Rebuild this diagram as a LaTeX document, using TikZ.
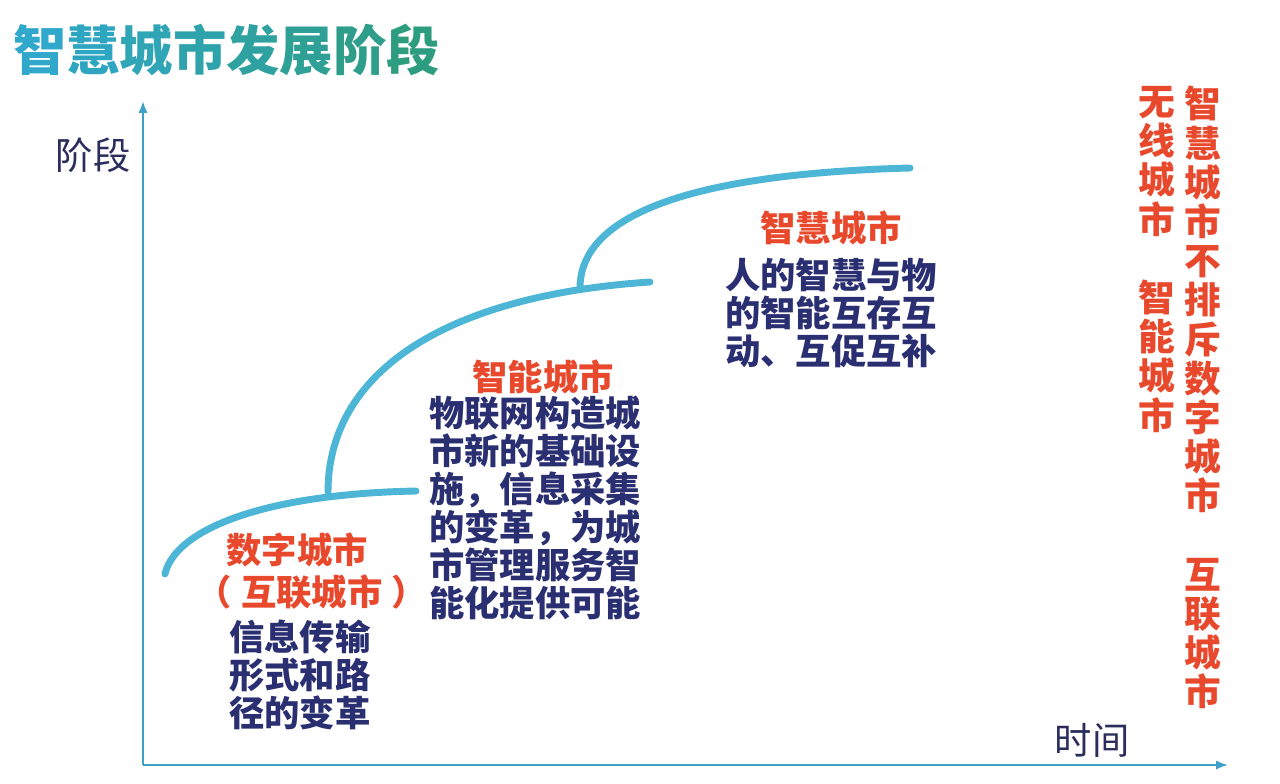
\documentclass[tikz,border=0pt]{standalone}
\usepackage{fontspec}
\setmainfont{Noto Sans CJK SC}
\usetikzlibrary{arrows.meta}
\definecolor{navy}{HTML}{2A2F72}
\definecolor{cred}{HTML}{E8492D}
\definecolor{curvecol}{HTML}{4DB6D6}
\definecolor{axiscol}{HTML}{3E9FC8}
\definecolor{axlabel}{HTML}{2B2D5C}
\definecolor{tA}{HTML}{2FA8CC}
\definecolor{tB}{HTML}{2E9C7E}
\begin{document}
\begin{tikzpicture}[x=0.75pt,y=-0.75pt,
  redlabel/.style={text=cred, font=\bfseries\fontsize{26.5pt}{28.5pt}\selectfont, inner sep=0},
  bodytext/.style={text=navy, font=\bfseries\fontsize{26.5pt}{28.5pt}\selectfont, align=left, inner sep=0},
  axlab/.style={text=axlabel, font=\fontsize{28pt}{30pt}\selectfont, inner sep=0},
  sidecol/.style={text=cred, font=\bfseries\fontsize{27.5pt}{29.4pt}\selectfont, align=center, inner sep=0, anchor=north},
  axisline/.style={draw=axiscol, line width=1.6pt, -{Latex[length=9pt,width=7pt]}},
  stage/.style={draw=curvecol, line width=5.2pt, line cap=round}]
\useasboundingbox (0,0) rectangle (1280,784);

% title
\node[anchor=west, inner sep=0, font=\bfseries\fontsize{40pt}{42pt}\selectfont] (title) at (13,50)
 {\textcolor{tA!100!tB}{智}\textcolor{tA!86!tB}{慧}\textcolor{tA!72!tB}{城}\textcolor{tA!58!tB}{市}\textcolor{tA!44!tB}{发}\textcolor{tA!30!tB}{展}\textcolor{tA!16!tB}{阶}\textcolor{tA!0!tB}{段}};

% axes
\coordinate (O) at (143,765);
\coordinate (ytip) at (143,101);
\coordinate (xtip) at (1228,765);
\draw[axisline] (O) -- (ytip);
\draw[axisline] (O) -- (xtip);
\node[axlab] (ylab) at (93,155) {阶段};
\node[axlab] (xlab) at (1092,740) {时间};

% stage curves
\coordinate (c1s) at (165,574);
\coordinate (c1e) at (416,491);
\coordinate (b1) at (328,492);
\coordinate (c2e) at (650,282);
\coordinate (b2) at (580,288);
\coordinate (c3e) at (910,168);
\draw[stage] (c1s) .. controls (175,530) and (262,494) .. (c1e);
\draw[stage] (b1) .. controls (328,375) and (440,296) .. (c2e);
\draw[stage] (b2) .. controls (580,230) and (650,175) .. (c3e);

% stage 1
\node[redlabel] (s1t) at (297,550) {数字城市};
\node[redlabel] (s1p) at (312,592) {（\hspace{7pt}互联城市\hspace{7pt}）};
\node[bodytext, anchor=west] (s1b) at (229,675) {信息传输\\形式和路\\径的变革};

% stage 2
\node[redlabel] (s2t) at (543,377) {智能城市};
\node[bodytext, anchor=west] (s2b) at (429,508) {物联网构造城\\市新的基础设\\施，信息采集\\的变革，为城\\市管理服务智\\能化提供可能};

% stage 3
\node[redlabel] (s3t) at (831,228) {智慧城市};
\node[bodytext, anchor=west] (s3b) at (725,313) {人的智慧与物\\的智能互存互\\动、互促互补};

% side columns
\node[sidecol] (colL) at (1157,86) {无\\线\\城\\市\\\mbox{}\\智\\能\\城\\市};
\node[sidecol] (colR) at (1203,86) {智\\慧\\城\\市\\不\\排\\斥\\数\\字\\城\\市\\\mbox{}\\互\\联\\城\\市};
\end{tikzpicture}
\end{document}
